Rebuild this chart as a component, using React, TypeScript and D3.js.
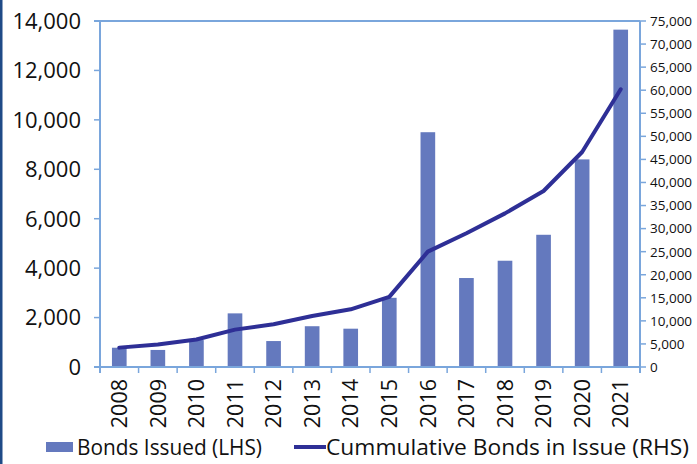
import React from "react";
import * as d3 from "d3";

const years = ["2008","2009","2010","2011","2012","2013","2014","2015","2016","2017","2018","2019","2020","2021"];
const bondsIssued = [780, 690, 1090, 2170, 1050, 1650, 1550, 2800, 9500, 3600, 4300, 5350, 8400, 13650];
const cumulative = [4200, 4900, 5950, 8100, 9250, 11050, 12500, 15200, 25000, 29000, 33300, 38150, 46600, 60200];
const leftTicks = [0, 2000, 4000, 6000, 8000, 10000, 12000, 14000];
const rightTicks = d3.range(0, 75001, 5000);
const legendLabels = ["Bonds Issued (LHS)", "Cummulative Bonds in Issue (RHS)"];

const W = 697, H = 464;
const L = 100, R = 640, T = 21, B = 367;
const axisColor = "#7aa6dc";
const barColor = "#6479be";
const lineColor = "#2e2f96";
const font = "'Open Sans', sans-serif";

export default function App() {
  const x = d3.scaleBand<string>().domain(years).range([L, R]).paddingInner(0.62).paddingOuter(0.31);
  const band = d3.scaleBand<string>().domain(years).range([L, R]);
  const yL = d3.scaleLinear().domain([0, 14000]).range([B, T]);
  const yR = d3.scaleLinear().domain([0, 75000]).range([B, T]);
  const fmt = d3.format(",");
  const line = d3.line<number>()
    .x((_, i) => (band(years[i]) as number) + band.bandwidth() / 2)
    .y((d) => yR(d));

  return (
    <div style={{ position: "absolute", left: 0, top: 0, width: W, height: H, background: "#fff" }}>
      <svg width={W} height={H} style={{ display: "block" }}>
        <rect x={0} y={0} width={2.5} height={H} fill="#1f4b87" />
        {bondsIssued.map((v, i) => (
          <rect key={years[i]} x={x(years[i])} y={yL(v)} width={x.bandwidth()} height={B - yL(v)} fill={barColor} />
        ))}
        <line x1={94} x2={R} y1={T} y2={T} stroke={axisColor} strokeWidth={2} />
        <line x1={L} x2={L} y1={T} y2={B + 6} stroke={axisColor} strokeWidth={2} />
        <line x1={R} x2={R} y1={T} y2={B + 6} stroke={axisColor} strokeWidth={2} />
        <line x1={94} x2={R} y1={B} y2={B} stroke={axisColor} strokeWidth={2} />
        {leftTicks.map((t) => (
          <g key={"l" + t}>
            <line x1={94} x2={L} y1={yL(t)} y2={yL(t)} stroke={axisColor} strokeWidth={1.5} />
            <text x={81} y={yL(t)} dy="0.36em" textAnchor="end" fontFamily={font} fontSize={22} fill="#111">{fmt(t)}</text>
          </g>
        ))}
        {rightTicks.map((t) => (
          <g key={"r" + t}>
            <line x1={R} x2={R + 6} y1={yR(t)} y2={yR(t)} stroke={axisColor} strokeWidth={1.5} />
            <text x={650} y={yR(t)} dy="0.36em" textAnchor="start" fontFamily={font} fontSize={13.5} fill="#111">{fmt(t)}</text>
          </g>
        ))}
        {years.map((yr) => (
          <line key={"t" + yr} x1={(band(yr) as number) + band.bandwidth()} x2={(band(yr) as number) + band.bandwidth()} y1={B} y2={B + 6} stroke={axisColor} strokeWidth={1.5} />
        ))}
        {years.map((yr) => {
          const cx = (band(yr) as number) + band.bandwidth() / 2;
          return (
            <text key={"x" + yr} transform={`translate(${cx},${379}) rotate(-90)`} dy="0.36em" textAnchor="end" fontFamily={font} fontSize={21.5} fill="#111">{yr}</text>
          );
        })}
        <path d={line(cumulative) || ""} fill="none" stroke={lineColor} strokeWidth={4} strokeLinejoin="round" strokeLinecap="round" />
        <rect x={46} y={442} width={27} height={10} fill={barColor} />
        <text x={77} y={455} fontFamily={font} fontSize={21} fill="#111" textLength={185} lengthAdjust="spacingAndGlyphs">{legendLabels[0]}</text>
        <line x1={294} x2={326} y1={447} y2={447} stroke={lineColor} strokeWidth={4} />
        <text x={326} y={455} fontFamily={font} fontSize={21} fill="#111" textLength={363} lengthAdjust="spacingAndGlyphs">{legendLabels[1]}</text>
      </svg>
    </div>
  );
}
